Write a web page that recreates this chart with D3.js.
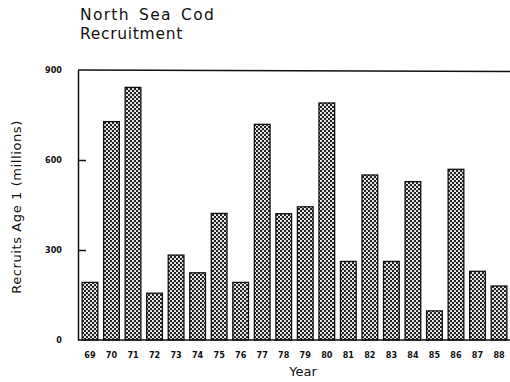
<!DOCTYPE html>
<html>
<head>
<meta charset="utf-8">
<script src="https://cdn.jsdelivr.net/npm/d3@7"></script>
<style>
  body { margin: 0; background: #fff; }
  svg { display: block; }
  .tick text { font-family: "DejaVu Sans Condensed", "DejaVu Sans", sans-serif; font-weight: bold; font-size: 9px; fill: #111; }
  .title, .axis-label { font-family: "DejaVu Sans", sans-serif; fill: #111; }
</style>
</head>
<body>
<div id="chart"></div>
<script>
var width = 510;
var height = 382;

// data
var years = ["69","70","71","72","73","74","75","76","77","78","79","80","81","82","83","84","85","86","87","88"];
var recruits = [192, 728, 842, 156, 283, 224, 422, 192, 719, 421, 444, 790, 262, 550, 262, 528, 97, 569, 229, 180];
var yTicks = [0, 300, 600, 900];

var plotLeft = 78, plotRight = 510, plotTop = 70, plotBottom = 340;

var svg = d3.select("#chart")
  .append("svg")
  .attr("width", width)
  .attr("height", height);

// dotted fill like the plotter hatch
var defs = svg.append("defs");
var pat = defs.append("pattern")
  .attr("id", "dots")
  .attr("patternUnits", "userSpaceOnUse")
  .attr("width", 4)
  .attr("height", 4);
pat.append("rect").attr("width", 4).attr("height", 4).attr("fill", "#222");
pat.append("circle").attr("cx", 1).attr("cy", 1).attr("r", 1.05).attr("fill", "#fff");
pat.append("circle").attr("cx", 3).attr("cy", 3).attr("r", 1.05).attr("fill", "#fff");

var x = d3.scaleBand()
  .domain(years)
  .range([85 - 2.9, 504 + 2.9])
  .paddingInner(0.27)
  .paddingOuter(0);

var y = d3.scaleLinear()
  .domain([0, 900])
  .range([plotBottom, plotTop]);

// title
svg.append("text")
  .attr("class", "title")
  .attr("x", 80)
  .attr("y", 20)
  .attr("font-size", 15.5)
  .attr("letter-spacing", 1.3)
  .attr("word-spacing", 3)
  .text("North Sea Cod");
svg.append("text")
  .attr("class", "title")
  .attr("x", 80)
  .attr("y", 38.5)
  .attr("font-size", 15.5)
  .attr("letter-spacing", 0.7)
  .text("Recruitment");

// bars
svg.append("g").selectAll("rect")
  .data(recruits)
  .enter()
  .append("rect")
  .attr("x", (d, i) => x(years[i]))
  .attr("y", d => y(d))
  .attr("width", x.bandwidth())
  .attr("height", d => plotBottom - y(d))
  .attr("fill", "url(#dots)")
  .attr("stroke", "#111")
  .attr("stroke-width", 1.3);

// y axis
var leftAxis = d3.axisLeft(y)
  .tickValues(yTicks)
  .tickSizeInner(-8)
  .tickSizeOuter(0)
  .tickPadding(16)
  .tickFormat(d3.format("d"));

var yAxis = svg.append("g")
  .attr("transform", `translate(${plotLeft}, 0)`)
  .call(leftAxis);
yAxis.select(".domain").attr("stroke", "#111").attr("stroke-width", 1.5);
yAxis.selectAll(".tick line").attr("stroke", "#111").attr("stroke-width", 1.5);
yAxis.selectAll(".tick").filter(d => d === 0 || d === 900).select("line").remove();

// x axis
var bottomAxis = d3.axisBottom(x)
  .tickSize(0)
  .tickPadding(12);
var xAxis = svg.append("g")
  .attr("transform", `translate(0, ${plotBottom})`)
  .call(bottomAxis);
xAxis.select(".domain").remove();

// frame lines
svg.append("line")
  .attr("x1", plotLeft).attr("x2", plotRight)
  .attr("y1", plotBottom).attr("y2", plotBottom)
  .attr("stroke", "#111").attr("stroke-width", 1.5);
svg.append("line")
  .attr("x1", plotLeft).attr("x2", plotRight)
  .attr("y1", plotTop).attr("y2", plotTop + 1.5)
  .attr("stroke", "#111").attr("stroke-width", 1.3);

// axis titles
svg.append("text")
  .attr("class", "axis-label")
  .attr("x", 303)
  .attr("y", 376)
  .attr("text-anchor", "middle")
  .attr("font-size", 13)
  .text("Year");

svg.append("text")
  .attr("class", "axis-label")
  .attr("transform", "translate(21, 207) rotate(-90)")
  .attr("text-anchor", "middle")
  .attr("font-size", 13)
  .attr("letter-spacing", 0.6)
  .text("Recruits Age 1 (millions)");
</script>
</body>
</html>
